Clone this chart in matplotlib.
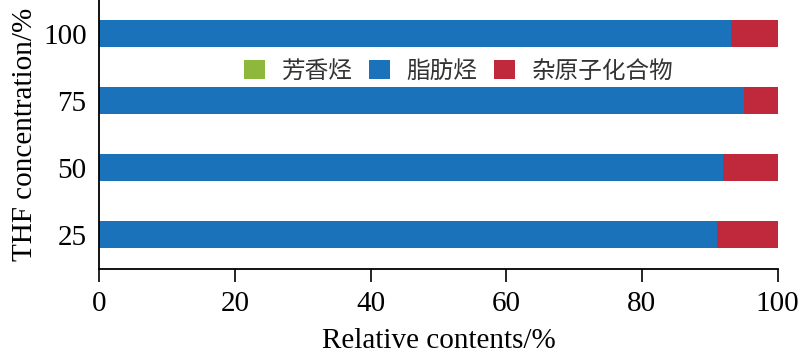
import numpy as np
import matplotlib
matplotlib.use("Agg")
import matplotlib.pyplot as plt

plt.rcParams['font.family'] = ['Liberation Serif', 'Noto Sans CJK SC']

#THF concentration groups and composition (%)
thf = ['25', '50', '75', '100']
aromatic = [0.0, 0.0, 0.0, 0.0]
aliphatic = [91.1, 92.0, 95.0, 93.1]
hetero = [8.9, 8.0, 5.0, 6.9]
names = ['芳香烃', '脂肪烃', '杂原子化合物']
colors = ['#8DB83B', '#1A72BB', '#C0293B']

fig = plt.figure(figsize=(8, 3.55), dpi=100)
ax = fig.add_axes([0.124, 0.2423, 0.848, 0.7577])

ypos = np.arange(len(thf))
left = np.zeros(len(thf))
for vals, nm, c in zip([aromatic, aliphatic, hetero], names, colors):
    ax.barh(ypos, vals, height=0.4, left=left, color=c, label=nm)
    left = left + np.array(vals)

ax.set_xlim(0, 100)
ax.set_ylim(-0.51, 3.5)
ax.set_yticks(ypos)
ax.set_yticklabels(thf)
ax.set_xticks(np.arange(0, 101, 20))
ax.tick_params(axis='x', direction='out', length=9, width=1.2, labelsize=21, pad=7)
ax.tick_params(axis='y', length=0, labelsize=21, pad=9)
ax.spines['top'].set_visible(False)
ax.spines['right'].set_visible(False)
ax.spines['left'].set_linewidth(1.3)
ax.spines['bottom'].set_linewidth(1.3)
ax.set_xlabel('Relative contents/%', fontsize=21, labelpad=8)
ax.set_ylabel('THF concentration/%', fontsize=21, labelpad=4)

leg = ax.legend(loc='center', bbox_to_anchor=(0.53, 0.735), ncol=3, frameon=False,
                prop={'family': 'Noto Sans CJK SC', 'size': 17},
                handlelength=0.9, handleheight=0.9, handletextpad=0.7,
                columnspacing=0.7, borderpad=0.2)
for t in leg.get_texts():
    t.set_color('#333333')

fig.savefig('out.png', dpi=100)
